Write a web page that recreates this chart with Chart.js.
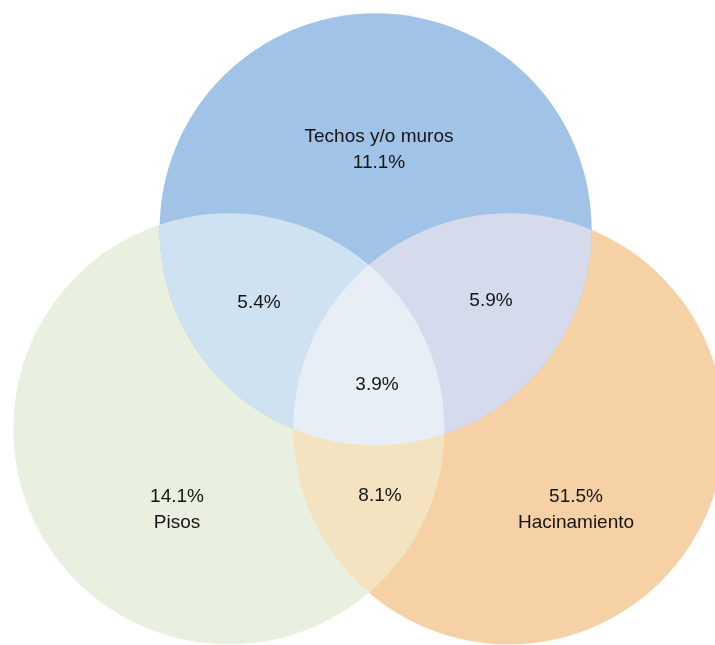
<!DOCTYPE html>
<html>
<head>
<meta charset="utf-8">
<script src="https://cdn.jsdelivr.net/npm/chart.js@4"></script>
<style>
  body { margin: 0; background: #fff; }
  #wrap { width: 715px; height: 645px; }
</style>
</head>
<body>
<div id="wrap"><canvas id="venn" width="715" height="645"></canvas></div>
<script>
// Conjuntos
const conjuntos = ['Techos y/o muros', 'Pisos', 'Hacinamiento'];
const colores = ['#a1c3e7', '#e9f0df', '#f5d1a5'];
// centros y radios de cada círculo (unidades del eje)
const centroX = [375.6, 228.8, 508.8];
const centroY = [229.3, 428.8, 428.8];
const radios = [216, 215.5, 215.5];

// Porcentajes
const soloUno = ['11.1%', '14.1%', '51.5%'];
const pares = [[0, 1], [0, 2], [1, 2]];
const valoresPares = ['5.4%', '5.9%', '8.1%'];
const coloresPares = ['#cfe2f1', '#d5daec', '#f3e3c1'];
const valorTodos = '3.9%';
const colorTodos = '#e8eef6';

// donde va cada etiqueta
const etiquetas = [
    { texto: [conjuntos[0], soloUno[0]], x: 379, y: 150 },
    { texto: [soloUno[1], conjuntos[1]], x: 177, y: 510 },
    { texto: [soloUno[2], conjuntos[2]], x: 576, y: 510 },
    { texto: [valoresPares[0]], x: 259, y: 303 },
    { texto: [valoresPares[1]], x: 491, y: 301 },
    { texto: [valoresPares[2]], x: 380, y: 496 },
    { texto: [valorTodos], x: 377, y: 385 },
];

// rango de los ejes
const xMin = 0, xMax = 715, yMin = 0, yMax = 645;

function circulo(c, el) {
    c.beginPath();
    c.arc(el.x, el.y, el.options.radius, 0, Math.PI * 2);
    c.closePath();
}

const cruces = {
    id: 'cruces',
    afterDatasetsDraw(chart) {
        const c = chart.ctx;
        const els = conjuntos.map((_, i) => chart.getDatasetMeta(i).data[0]);
        if (els.every(el => el && el.options.radius > 0)) {
            pares.forEach((p, k) => {
                c.save();
                circulo(c, els[p[0]]); c.clip();
                circulo(c, els[p[1]]); c.clip();
                c.fillStyle = coloresPares[k];
                c.fillRect(0, 0, chart.width, chart.height);
                c.restore();
            });
            c.save();
            els.forEach(el => { circulo(c, el); c.clip(); });
            c.fillStyle = colorTodos;
            c.fillRect(0, 0, chart.width, chart.height);
            c.restore();
        }

        const sx = chart.scales.x, sy = chart.scales.y;
        c.save();
        c.fillStyle = '#151515';
        c.font = '19px "Liberation Sans", sans-serif';
        c.textAlign = 'center';
        c.textBaseline = 'middle';
        etiquetas.forEach(e => {
            const px = sx.getPixelForValue(e.x);
            const py = sy.getPixelForValue(e.y);
            const n = e.texto.length;
            e.texto.forEach((t, i) => {
                c.fillText(t, px, py + (i - (n - 1) / 2) * 26);
            });
        });
        c.restore();
    }
};

const ctx = document.getElementById('venn');
// ejes ocultos y sin padding: el area del grafico es todo el canvas
const pxPorUnidad = ctx.width / (xMax - xMin);

new Chart(ctx, {
    type: 'bubble',
    data: {
        datasets: conjuntos.map((nombre, i) => ({
            label: nombre,
            data: [{ x: centroX[i], y: centroY[i] }],
            backgroundColor: colores[i],
            borderWidth: 0,
            radius: radios[i] * pxPorUnidad,
            clip: false,
        }))
    },
    options: {
        responsive: false,
        animation: false,
        events: [],
        layout: { padding: 0, autoPadding: false },
        scales: {
            x: { type: 'linear', min: xMin, max: xMax, display: false },
            y: { type: 'linear', min: yMin, max: yMax, reverse: true, display: false }
        },
        plugins: {
            legend: { display: false },
            tooltip: { enabled: false }
        }
    },
    plugins: [cruces]
});
</script>
</body>
</html>
